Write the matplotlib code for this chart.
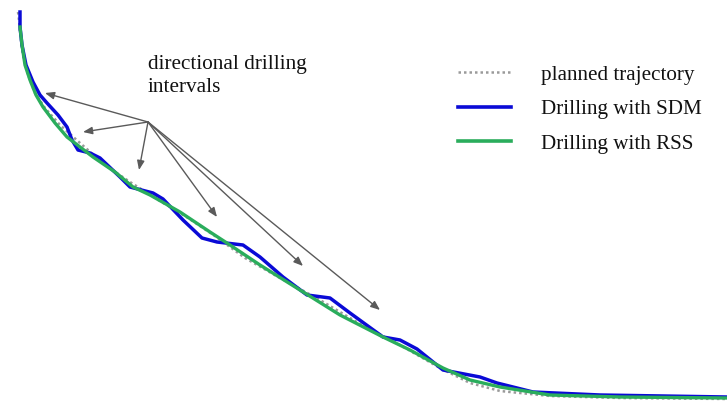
import numpy as np
import matplotlib
matplotlib.use("Agg")
import matplotlib.pyplot as plt
from matplotlib.lines import Line2D

# curves (x across, y = depth, downwards)
plan_x = [18, 19, 20, 23, 28, 35, 45, 60, 80, 105, 130, 160, 185, 215, 245, 280, 320, 360, 400, 440, 470, 500, 550, 620, 727]
plan_y = [12, 20, 32, 55, 75, 93, 108, 125, 143, 165, 182, 201, 216, 236, 258, 278, 300, 324, 345, 368, 383, 391, 396, 398, 399]

sdm_x = [20, 20, 22, 26, 33, 40, 47, 58, 67, 72, 78, 90, 100, 120, 130, 153, 163, 183, 202, 217, 243, 260, 283, 307, 330, 350, 383, 400, 417, 443, 480, 497, 533, 600, 727]
sdm_y = [12, 27, 45, 65, 82, 95, 103, 115, 127, 140, 150, 153, 158, 177, 187, 193, 199, 220, 238, 242, 245, 257, 277, 295, 298, 313, 337, 340, 349, 370, 377, 383, 392, 395, 397]

rss_x = [20, 22, 25, 30, 36, 43, 55, 67, 80, 93, 115, 133, 150, 180, 210, 230, 260, 300, 340, 383, 410, 443, 470, 500, 550, 620, 727]
rss_y = [27, 45, 65, 80, 95, 107, 123, 137, 147, 157, 172, 187, 195, 212, 232, 245, 265, 290, 315, 337, 350, 368, 380, 387, 395, 397, 398]

# arrows: common tail and the interval heads
arrow_tail = (148, 122)
arrow_heads_x = [45, 83, 139, 217, 303, 380]
arrow_heads_y = [93, 132, 170, 217, 266, 310]

labels = ["planned trajectory", "Drilling with SDM", "Drilling with RSS"]
blue = "#0a0ad6"
green = "#2aad5c"
grey = "#9a9a9a"

plt.rcParams["font.family"] = ["Liberation Serif", "DejaVu Serif"]

fig = plt.figure(figsize=(7.27, 4.01), dpi=100)
ax = fig.add_axes([0, 0, 1, 1])
ax.set_xlim(0, 727)
ax.set_ylim(401, 0)
ax.axis("off")

ax.plot(plan_x, plan_y, color=grey, lw=1.8, ls=(0, (1, 1.2)))
ax.plot(sdm_x, sdm_y, color=blue, lw=2.5, solid_joinstyle="round")
ax.plot(rss_x, rss_y, color=green, lw=2.4, solid_joinstyle="round")

for hx, hy in zip(arrow_heads_x, arrow_heads_y):
    ax.annotate("", xy=(hx, hy), xytext=arrow_tail,
                arrowprops=dict(arrowstyle="-|>,head_length=0.55,head_width=0.22",
                                color="#5a5a5a", lw=1.0, shrinkA=0, shrinkB=0))

ax.text(148, 55, "directional drilling\nintervals", fontsize=15.3,
        va="top", ha="left", linespacing=1.3, color="#111111")

handles = [Line2D([], [], color=grey, lw=1.8, ls=(0, (1, 1.2))),
           Line2D([], [], color=blue, lw=2.6),
           Line2D([], [], color=green, lw=2.6)]
leg = ax.legend(handles, labels, loc="upper left",
                bbox_to_anchor=(458 / 727, 1 - 65 / 401), frameon=False,
                fontsize=15.2, handlelength=2.5, handletextpad=1.45,
                labelspacing=0.7, borderpad=0, borderaxespad=0)
for t in leg.get_texts():
    t.set_color("#111111")

fig.savefig("out.png", dpi=100)
